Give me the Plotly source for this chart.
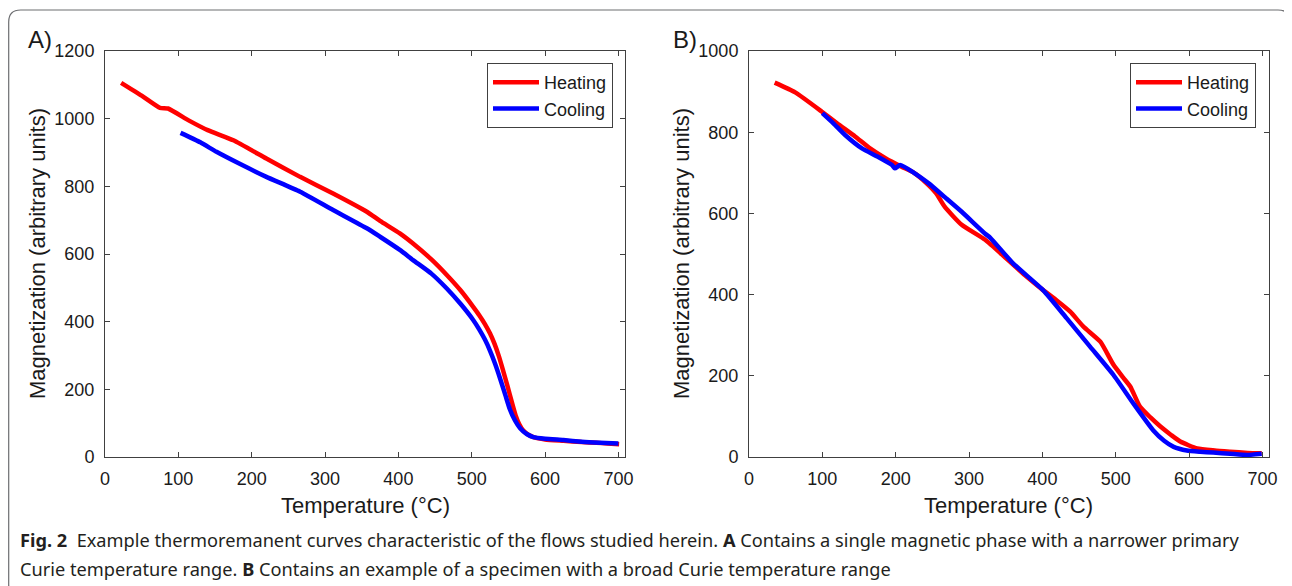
import plotly.graph_objects as go

# The page body adds an 8px margin, so the figure is sized to the visible area
# and every placement below is given in page pixels and shifted by that offset.
OFF = 8
W, H = 1292 - OFF, 586 - OFF

# ---------------- data ----------------
a_heat_T = [22, 50, 75, 86, 114, 140, 175, 220, 266, 311, 357, 375, 402, 420, 445, 466, 485, 502, 510, 518,
            525, 531, 537, 543, 549, 555, 560, 565, 570, 577, 585, 600, 625, 650, 670, 685, 701]
a_heat_M = [1106, 1068, 1032, 1030, 995, 966, 936, 882, 828, 779, 725, 698, 661, 631, 584, 538, 492, 444, 420, 393,
            365, 335, 298, 254, 208, 160, 122, 96, 79, 66, 58, 52, 48, 44, 42, 40, 38]

a_cool_T = [103, 130, 152, 185, 220, 266, 311, 357, 375, 402, 420, 445, 466, 485, 502, 510, 518, 525, 532, 539,
            546, 552, 559, 566, 575, 584, 600, 625, 650, 675, 700]
a_cool_M = [958, 930, 902, 865, 828, 784, 730, 676, 651, 612, 582, 542, 498, 452, 405, 378, 347, 314, 275, 230,
            182, 141, 108, 85, 68, 59, 54, 50, 45, 42, 40]

b_heat_T = [35, 63, 99, 120, 145, 165, 186, 208, 225, 240, 255, 267, 290, 322, 349, 376, 401, 420, 438, 456,
            479, 497, 510, 520, 533, 547, 561, 575, 588, 611, 635, 656, 680, 699]
b_heat_M = [922, 898, 851, 822, 789, 760, 736, 715, 700, 678, 650, 616, 572, 535, 492, 448, 411, 385, 358, 321,
            284, 227, 196, 173, 124, 98, 75, 55, 38, 21, 16, 13, 10, 9]

b_cool_T = [100, 115, 131, 154, 175, 195, 199, 206, 225, 245, 267, 290, 322, 329, 360, 401, 433, 465, 497, 524,
            551, 566, 579, 597, 615, 633, 656, 679, 699]
b_cool_M = [847, 822, 793, 760, 740, 719, 711, 719, 700, 674, 640, 604, 550, 540, 477, 411, 342, 272, 202, 132,
            66, 40, 25, 16, 13, 11, 8, 5, 8]

x_ticks = [0, 100, 200, 300, 400, 500, 600, 700]
a_y_ticks = [0, 200, 400, 600, 800, 1000, 1200]
b_y_ticks = [0, 200, 400, 600, 800, 1000]

series_names = ["Heating", "Cooling"]
panel_labels = ["A)", "B)"]
x_title = "Temperature (°C)"
y_title = "Magnetization (arbitrary units)"
caption1 = ("<b>Fig. 2</b>  Example thermoremanent curves characteristic of the flows studied herein. "
            "<b>A</b> Contains a single magnetic phase with a narrower primary")
caption2 = ("Curie temperature range. <b>B</b> Contains an example of a specimen with a broad Curie "
            "temperature range")

# ---------------- layout helpers ----------------
RED, BLUE = "#ff0000", "#0000ff"
AX = "#404040"
TXT = "#1a1a1a"
FONT = "Liberation Sans, Arial, sans-serif"


def px(x):
    return (x - OFF) / W


def py(y):
    return 1 - (y - OFF) / H


top, bottom = 51, 457
A_l, A_r = 105, 625
B_l, B_r = 749, 1269

fig = go.Figure()
lw = 4.5


def line(color):
    return dict(color=color, width=lw, shape="spline", smoothing=0.5)


fig.add_trace(go.Scatter(x=a_heat_T, y=a_heat_M, mode="lines", name=series_names[0],
                         line=line(RED), xaxis="x", yaxis="y", legend="legend"))
fig.add_trace(go.Scatter(x=a_cool_T, y=a_cool_M, mode="lines", name=series_names[1],
                         line=line(BLUE), xaxis="x", yaxis="y", legend="legend"))
fig.add_trace(go.Scatter(x=b_heat_T, y=b_heat_M, mode="lines", name=series_names[0],
                         line=line(RED), xaxis="x2", yaxis="y2", legend="legend2"))
fig.add_trace(go.Scatter(x=b_cool_T, y=b_cool_M, mode="lines", name=series_names[1],
                         line=line(BLUE), xaxis="x2", yaxis="y2", legend="legend2"))

common = dict(showgrid=False, zeroline=False, showline=True, linecolor=AX, linewidth=1,
              mirror="ticks", ticks="inside", ticklen=5, tickcolor=AX, tickwidth=1, automargin=False,
              tickfont=dict(family=FONT, size=18, color=TXT))

legend_common = dict(xanchor="right", yanchor="top", bgcolor="white", bordercolor=AX, borderwidth=1,
                     font=dict(family=FONT, size=18, color=TXT), tracegroupgap=0, itemwidth=46)

fig.update_layout(
    width=W, height=H,
    margin=dict(l=0, r=0, t=0, b=0, pad=0, autoexpand=False),
    paper_bgcolor="white", plot_bgcolor="white",
    font=dict(family=FONT, color=TXT),
    xaxis=dict(domain=[px(A_l), px(A_r)], range=[0, 709], tickvals=x_ticks, anchor="y",
               ticklabelstandoff=5, **common),
    yaxis=dict(domain=[py(bottom), py(top)], range=[0, 1200], tickvals=a_y_ticks, anchor="x",
               ticklabelstandoff=6, **common),
    xaxis2=dict(domain=[px(B_l), px(B_r)], range=[0, 709], tickvals=x_ticks, anchor="y2",
                ticklabelstandoff=5, **common),
    yaxis2=dict(domain=[py(bottom), py(top)], range=[0, 1000], tickvals=b_y_ticks, anchor="x2",
                ticklabelstandoff=6, **common),
    legend=dict(x=px(613), y=py(63), **legend_common),
    legend2=dict(x=px(1256), y=py(63), **legend_common),
    showlegend=True,
)

ann = []
for lbl, xc in zip(panel_labels, [40, 685]):
    ann.append(dict(text=lbl, x=px(xc), y=py(40), xref="paper", yref="paper", showarrow=False,
                    xanchor="center", yanchor="middle", font=dict(family=FONT, size=24, color=TXT)))
for xc in [(A_l + A_r) / 2, (B_l + B_r) / 2]:
    ann.append(dict(text=x_title, x=px(xc), y=py(505), xref="paper", yref="paper", showarrow=False,
                    xanchor="center", yanchor="middle", font=dict(family=FONT, size=22, color=TXT)))
for xc in [37, 681]:
    ann.append(dict(text=y_title, x=px(xc), y=py((top + bottom) / 2), xref="paper", yref="paper",
                    showarrow=False, textangle=-90, xanchor="center", yanchor="middle",
                    font=dict(family=FONT, size=22, color=TXT)))
for txt, yc in [(caption1, 540), (caption2, 569)]:
    ann.append(dict(text=txt, x=px(18), y=py(yc), xref="paper", yref="paper", showarrow=False,
                    xanchor="left", yanchor="middle",
                    font=dict(family="Noto Sans, Open Sans, sans-serif", size=18.2, color="#231f20")))
fig.update_layout(annotations=ann)

# rounded frame around the figure
L, T, R, B, r = 8.7, 10, 1290, 596, 12
path = (f"M {px(L)},{py(B)} L {px(L)},{py(T + r)} Q {px(L)},{py(T)} {px(L + r)},{py(T)} "
        f"L {px(R - r)},{py(T)} Q {px(R)},{py(T)} {px(R)},{py(T + r)} "
        f"L {px(R)},{py(B - r)} Q {px(R)},{py(B)} {px(R - r)},{py(B)} L {px(L + r)},{py(B)} "
        f"Q {px(L)},{py(B)} {px(L)},{py(B - r)} Z")
fig.add_shape(type="path", path=path, xref="paper", yref="paper",
              line=dict(color="#6d6e71", width=1.2), layer="below")

fig.write_html("out.html")
